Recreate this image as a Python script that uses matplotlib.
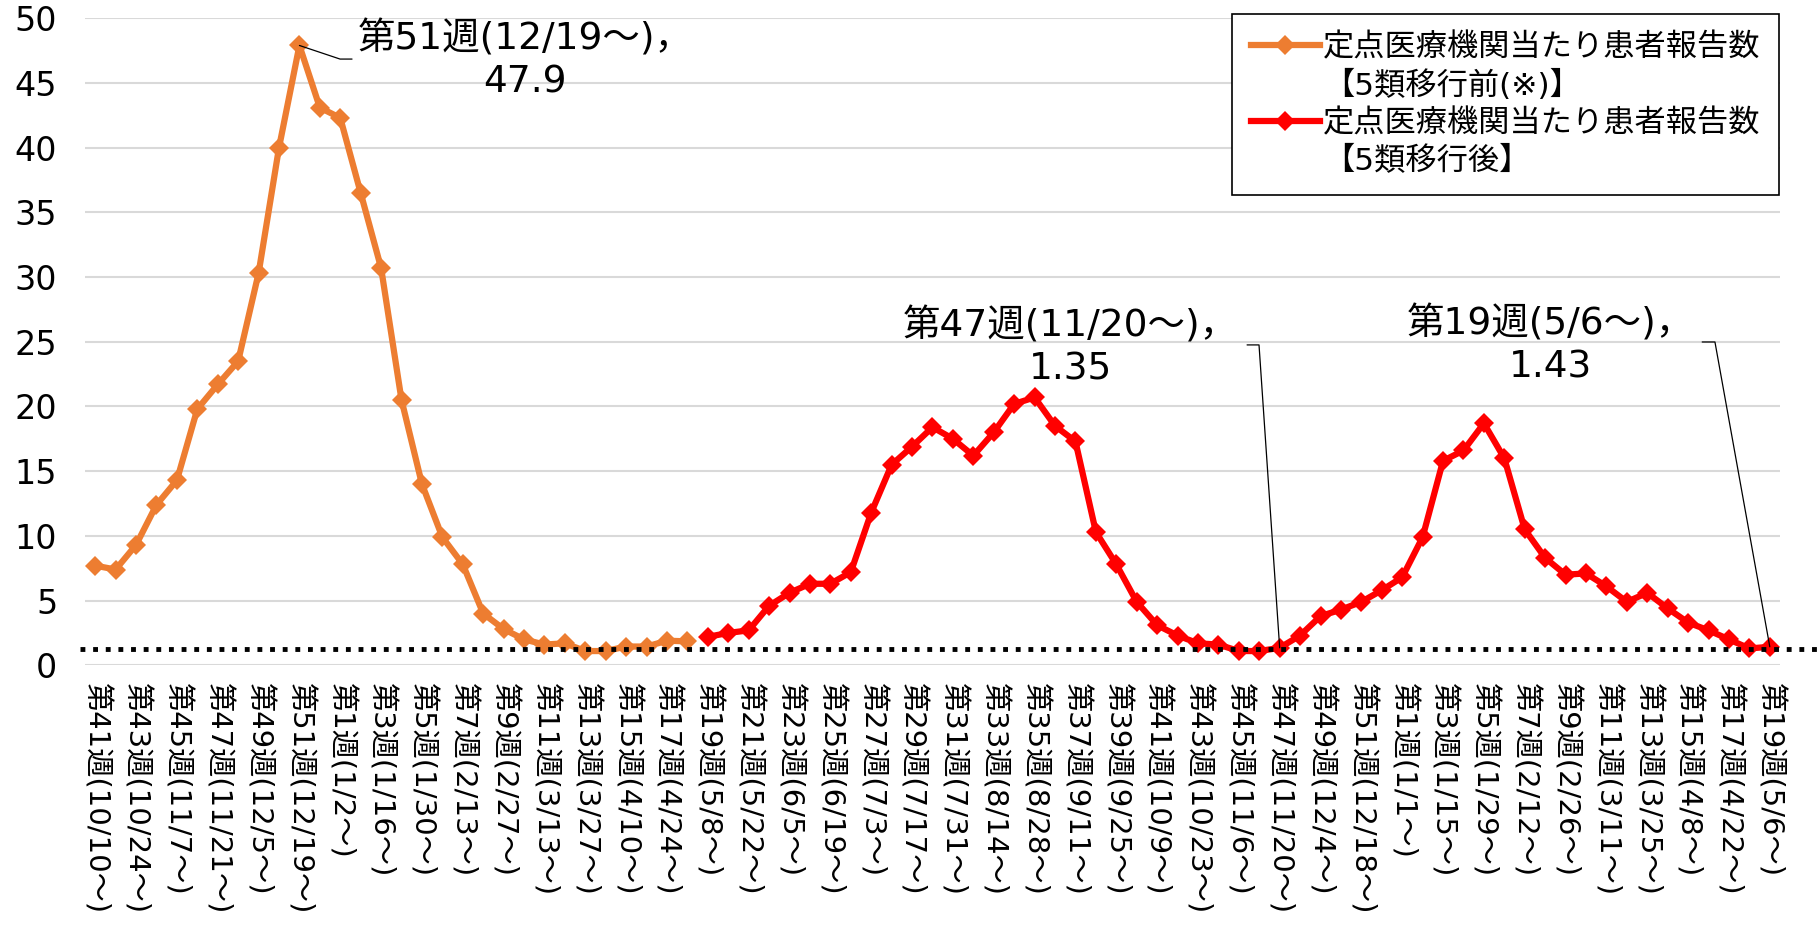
import matplotlib
matplotlib.use('Agg')
import matplotlib.pyplot as plt
from matplotlib.lines import Line2D

plt.rcParams['font.family'] = ['DejaVu Sans', 'Noto Sans CJK JP']

# 週ごとのカテゴリ（2022年第41週〜2024年第19週、83週）
week_labels = [
    "第41週(10/10～)", "第43週(10/24～)", "第45週(11/7～)", "第47週(11/21～)",
    "第49週(12/5～)", "第51週(12/19～)",
    "第1週(1/2～)", "第3週(1/16～)", "第5週(1/30～)", "第7週(2/13～)",
    "第9週(2/27～)", "第11週(3/13～)", "第13週(3/27～)", "第15週(4/10～)",
    "第17週(4/24～)", "第19週(5/8～)", "第21週(5/22～)", "第23週(6/5～)",
    "第25週(6/19～)", "第27週(7/3～)", "第29週(7/17～)", "第31週(7/31～)",
    "第33週(8/14～)", "第35週(8/28～)", "第37週(9/11～)", "第39週(9/25～)",
    "第41週(10/9～)", "第43週(10/23～)", "第45週(11/6～)", "第47週(11/20～)",
    "第49週(12/4～)", "第51週(12/18～)",
    "第1週(1/1～)", "第3週(1/15～)", "第5週(1/29～)", "第7週(2/12～)",
    "第9週(2/26～)", "第11週(3/11～)", "第13週(3/25～)", "第15週(4/8～)",
    "第17週(4/22～)", "第19週(5/6～)",
]

# 5類移行前 (2022 w41 - 2023 w18)
before = [7.7, 7.4, 9.3, 12.4, 14.3, 19.8, 21.7, 23.5, 30.3, 40.0,
          47.9, 43.1, 42.3, 36.5, 30.7, 20.5, 14.0, 9.9, 7.8, 4.0,
          2.8, 2.0, 1.6, 1.7, 1.1, 1.1, 1.45, 1.45, 1.9, 1.85]

# 5類移行後 (2023 w19 - 2024 w19)
after = [2.2, 2.5, 2.7, 4.6, 5.6, 6.3, 6.3, 7.2, 11.8, 15.5,
         16.9, 18.4, 17.5, 16.2, 18.0, 20.2, 20.7, 18.5, 17.3, 10.3,
         7.8, 4.9, 3.1, 2.3, 1.7, 1.6, 1.1, 1.1, 1.35, 2.3,
         3.8, 4.3, 4.9, 5.8, 6.8, 9.9, 15.8, 16.6, 18.7, 16.0,
         10.5, 8.3, 7.0, 7.1, 6.1, 4.9, 5.6, 4.4, 3.3, 2.7,
         2.0, 1.3, 1.43]

ref_level = 1.25

x_before = list(range(len(before)))
x_after = list(range(len(before), len(before) + len(after)))
n = len(before) + len(after)

label_top = "定点医療機関当たり患者報告数"
label_pre = "【5類移行前(※)】"
label_post = "【5類移行後】"

orange = '#ED7D31'
red = '#FF0000'

fig = plt.figure(figsize=(18.18, 9.43), dpi=100)
ax = fig.add_axes([0.04675, 0.2945, 0.93235, 0.6861])

ax.plot(x_before, before, color=orange, lw=4.5, marker='D', ms=10, mew=0, zorder=3)
ax.plot(x_after, after, color=red, lw=4.5, marker='D', ms=10, mew=0, zorder=3)

ax.axhline(ref_level, xmin=-0.003, xmax=1.03, color='black', lw=3.5,
           linestyle=(0, (1, 1.6)), dash_capstyle='butt', clip_on=False, zorder=4)

ax.set_xlim(-0.5, n - 0.5)
ax.set_ylim(0, 50)
ax.set_yticks(range(0, 51, 5))
ax.set_xticks(range(0, n, 2))
ax.set_xticklabels(week_labels, rotation=-90, fontsize=21, va='top', ha='center')
ax.tick_params(axis='x', length=0, pad=12)
ax.tick_params(axis='y', length=0, pad=20, labelsize=24)
ax.yaxis.grid(True, color='#D9D9D9', lw=1.5)
ax.set_axisbelow(True)
for s in ax.spines.values():
    s.set_visible(False)

# データラベル
notes = [
    (x_before[10], before[10], "第51週(12/19～)，\n47.9", (225.6, -14.6), (52.6, -13.6), -18.5),
    (x_after[28], after[28], "第47週(11/20～)，\n1.35", (-209.6, 299.9), (-32.6, 302.9), 93.9),
    (x_after[-1], after[-1], "第19週(5/6～)，\n1.43", (-219.6, 301.8), (-67.6, 304.8), 100.2),
]
for xi, yi, txt, toff, loff, ang in notes:
    ax.annotate(txt, xy=(xi, yi), xytext=toff, textcoords='offset pixels',
                ha='center', va='center', multialignment='center',
                fontsize=27, linespacing=1.25, zorder=5)
    ax.annotate('', xy=(xi, yi), xytext=loff, textcoords='offset pixels',
                arrowprops=dict(arrowstyle='-', color='black', lw=0.9,
                                shrinkA=0, shrinkB=0,
                                connectionstyle='angle,angleA=0,angleB=%s,rad=0' % ang),
                zorder=5)

h1 = Line2D([], [], color=orange, lw=4.5, marker='D', ms=10, mew=0)
h2 = Line2D([], [], color=red, lw=4.5, marker='D', ms=10, mew=0)
blank = Line2D([], [], linestyle='none')
leg = ax.legend([h1, blank, h2, blank], [label_top, label_pre, label_top, label_post],
                loc='upper right', bbox_to_anchor=(1779 / 1818, 1 - 14 / 943),
                bbox_transform=fig.transFigure, fontsize=22.5, frameon=True,
                fancybox=False, edgecolor='black', framealpha=1,
                handlelength=2.2, handletextpad=0.1, labelspacing=0.25,
                borderpad=0.6, borderaxespad=0)
leg.get_frame().set_linewidth(1.2)

fig.savefig('out.png', dpi=100)
